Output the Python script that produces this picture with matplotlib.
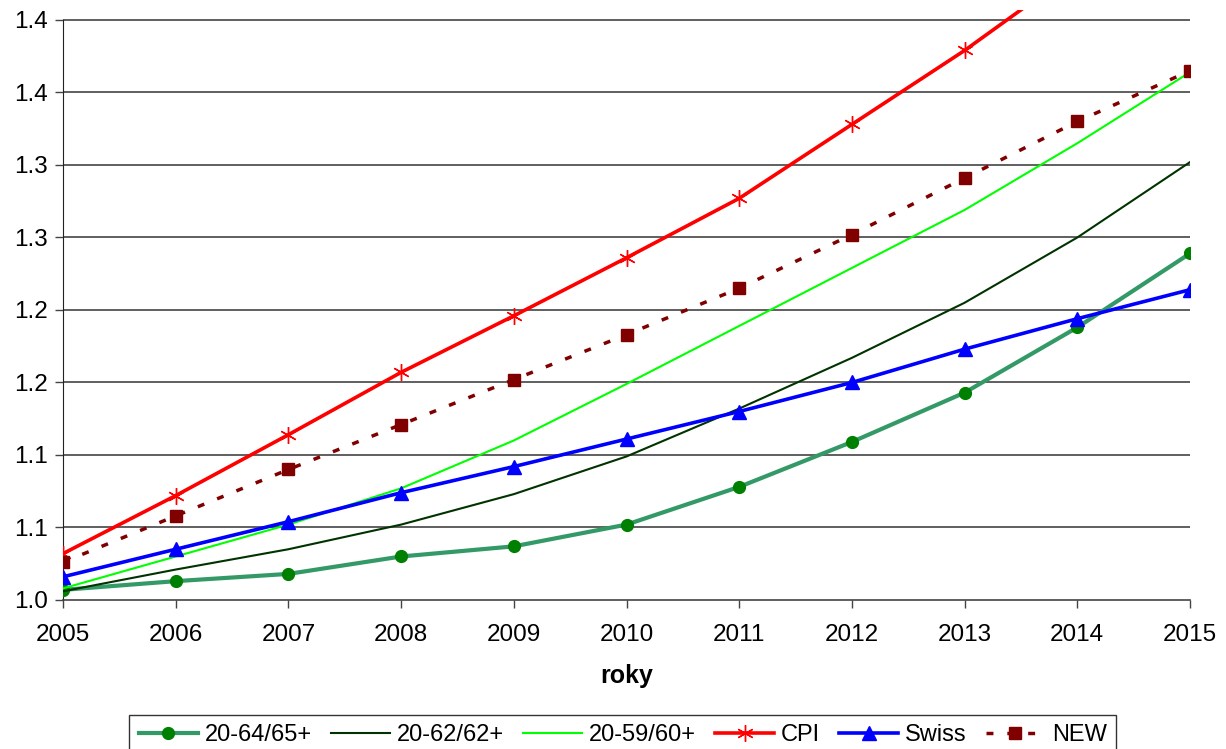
import matplotlib.pyplot as plt

plt.switch_backend("Agg")
plt.rcParams["font.family"] = ["Liberation Sans", "DejaVu Sans"]

# Data
years = [2005, 2006, 2007, 2008, 2009, 2010, 2011, 2012, 2013, 2014, 2015]
s_20_64 = [1.007, 1.013, 1.018, 1.030, 1.037, 1.052, 1.078, 1.109, 1.143, 1.188, 1.239]
s_20_62 = [1.006, 1.021, 1.035, 1.052, 1.073, 1.099, 1.132, 1.167, 1.205, 1.250, 1.302]
s_20_59 = [1.008, 1.030, 1.052, 1.077, 1.110, 1.149, 1.189, 1.229, 1.269, 1.315, 1.364]
cpi = [1.032, 1.072, 1.114, 1.157, 1.196, 1.236, 1.277, 1.328, 1.379, 1.435, 1.490]
swiss = [1.016, 1.035, 1.054, 1.074, 1.092, 1.111, 1.130, 1.150, 1.173, 1.194, 1.214]
new = [1.026, 1.058, 1.090, 1.121, 1.152, 1.183, 1.215, 1.252, 1.291, 1.330, 1.365]

y_ticks = [1.00, 1.05, 1.10, 1.15, 1.20, 1.25, 1.30, 1.35, 1.40]
y_labels = ["1.0", "1.1", "1.1", "1.2", "1.2", "1.3", "1.3", "1.4", "1.4"]

fig = plt.figure(figsize=(12.26, 7.49), dpi=100)
ax = fig.add_axes([63 / 1226, 1 - 600 / 749, (1190 - 63) / 1226, (600 - 10) / 749])

ax.plot(years, s_20_64, color="#339966", lw=3.0, marker="o", ms=8.5,
        mfc="#008000", mec="#008000", label="20-64/65+", zorder=3)
ax.plot(years, s_20_62, color="#003300", lw=1.5, label="20-62/62+", zorder=3)
ax.plot(years, s_20_59, color="#00FF00", lw=1.5, label="20-59/60+", zorder=3)
ax.plot(years, cpi, color="#FF0000", lw=2.6, marker=(6, 2, 0), ms=12,
        mec="#FF0000", mew=1.0, label="CPI", zorder=3)
ax.plot(years, swiss, color="#0000FF", lw=2.6, marker="^", ms=10,
        mfc="#0000FF", mec="#0000FF", label="Swiss", zorder=3)
ax.plot(years, new, color="#800000", lw=2.5, ls=(0, (2, 4)), marker="s", ms=9,
        mfc="#800000", mec="#800000", label="NEW", zorder=3)

ax.set_xlim(2005, 2015)
ax.set_ylim(1.0, 1.40 + 10 / 1450)
ax.set_xticks(years)
ax.set_yticks(y_ticks)
ax.set_yticklabels(y_labels)
ax.tick_params(axis="both", labelsize=17.5, direction="out", length=6, width=1, color="#444444")
ax.tick_params(axis="x", pad=11)
ax.tick_params(axis="y", pad=5)

for y in y_ticks[1:]:
    ax.axhline(y, color="#444444", lw=1.2, zorder=1)

ax.spines["top"].set_visible(False)
ax.spines["right"].set_visible(False)
ax.spines["left"].set_bounds(1.0, 1.40)
ax.spines["left"].set_color("#222222")
ax.spines["bottom"].set_color("#444444")
ax.spines["bottom"].set_linewidth(1.2)

ax.set_xlabel("roky", fontsize=18, fontweight="bold", labelpad=13)

leg = fig.legend(loc="upper center", bbox_to_anchor=(0.508, 1 - 715 / 749), ncol=6,
                 fontsize=17, frameon=True, fancybox=False, edgecolor="black",
                 handlelength=2.5, columnspacing=0.8, handletextpad=0.3,
                 borderpad=0.4, borderaxespad=0)
leg.get_frame().set_linewidth(1.0)

fig.savefig("out.png", dpi=100)
plt.close(fig)
